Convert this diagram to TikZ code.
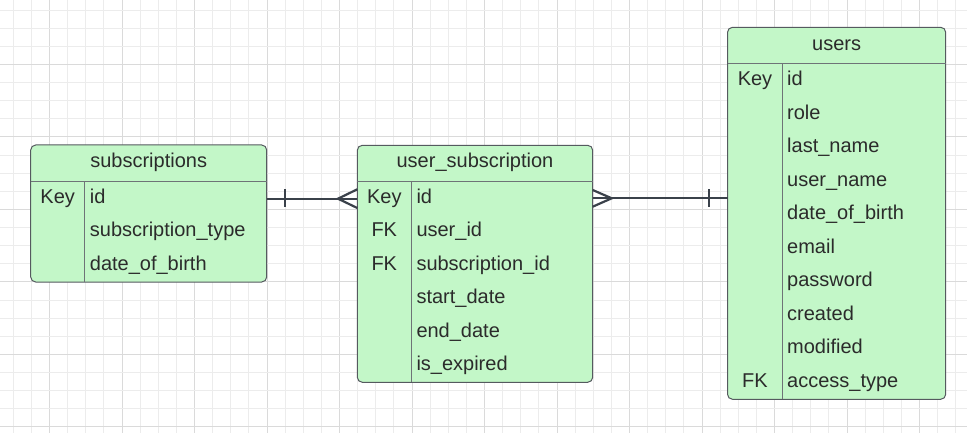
\documentclass[tikz,border=0pt]{standalone}
\usepackage{fontspec}
\setmainfont{Liberation Sans}
\usetikzlibrary{calc}
\definecolor{gridminor}{HTML}{ECECEC}
\definecolor{gridmajor}{HTML}{DADADA}
\definecolor{tblfill}{HTML}{C3F7C8}
\definecolor{tblline}{HTML}{555A5F}
\definecolor{txtcol}{HTML}{2B2B2B}
\definecolor{conncol}{HTML}{3A414A}
\tikzset{
  tbl/.style={draw=tblline, fill=tblfill, line width=1pt, rounded corners=5pt, inner sep=0pt, outer sep=0pt, anchor=north west},
  inner/.style={draw=tblline!85, line width=1pt},
  hdr/.style={anchor=base, text=txtcol, inner sep=0pt, font=\fontsize{20}{24}\selectfont},
  keytxt/.style={anchor=base, text=txtcol, inner sep=0pt, font=\fontsize{20}{24}\selectfont},
  fldtxt/.style={anchor=base west, text=txtcol, inner sep=0pt, font=\fontsize{20}{24}\selectfont},
  conn/.style={draw=conncol, line width=2.2pt},
}
\begin{document}
\begin{tikzpicture}[x=1pt,y=-1pt]
\useasboundingbox (0,0) rectangle (967,433);
\fill[white] (0,0) rectangle (967,433);
% grid
\foreach \i in {0,...,53}{
  \pgfmathsetmacro{\gx}{13.25+18.125*\i}
  \pgfmathtruncatemacro{\m}{mod(\i+2,4)}
  \ifnum\m=0
    \draw[gridmajor, line width=1pt] (\gx,0) -- (\gx,433);
  \else
    \draw[gridminor, line width=1pt] (\gx,0) -- (\gx,433);
  \fi
}
\foreach \j in {0,...,23}{
  \pgfmathsetmacro{\gy}{10.1+18.125*\j}
  \pgfmathtruncatemacro{\m}{mod(\j+1,4)}
  \ifnum\m=0
    \draw[gridmajor, line width=1pt] (0,\gy) -- (967,\gy);
  \else
    \draw[gridminor, line width=1pt] (0,\gy) -- (967,\gy);
  \fi
}
% ---- subscriptions
\node[tbl, minimum width=236pt, minimum height=137pt] (subs) at (30.7,145) {};
\draw[inner] ($(subs.north west)+(0,36.7)$) -- ($(subs.north east)+(0,36.7)$);
\draw[inner] ($(subs.north west)+(54,36.7)$) -- ($(subs.south west)+(54,0)$);
\node[hdr] (subs-h) at ($(subs.north)+(0,22.3)$) {subscriptions};
\node[keytxt] (subs-k1) at ($(subs.north west)+(27,58.3)$) {Key};
\foreach \t [count=\i from 0] in {id,subscription\_type,date\_of\_birth}{
  \node[fldtxt] (subs-f\i) at ($(subs.north west)+(59,58.3+33.5*\i)$) {\t};
}
% ---- user_subscription
\node[tbl, minimum width=235.4pt, minimum height=237pt] (usub) at (357.3,145.3) {};
\draw[inner] ($(usub.north west)+(0,36.4)$) -- ($(usub.north east)+(0,36.4)$);
\draw[inner] ($(usub.north west)+(54,36.4)$) -- ($(usub.south west)+(54,0)$);
\node[hdr] (usub-h) at ($(usub.north)+(0,22)$) {user\_subscription};
\node[keytxt] (usub-k1) at ($(usub.north west)+(27,58)$) {Key};
\node[keytxt] (usub-k2) at ($(usub.north west)+(27,91.5)$) {FK};
\node[keytxt] (usub-k3) at ($(usub.north west)+(27,125)$) {FK};
\foreach \t [count=\i from 0] in {id,user\_id,subscription\_id,start\_date,end\_date,is\_expired}{
  \node[fldtxt] (usub-f\i) at ($(usub.north west)+(59,58+33.5*\i)$) {\t};
}
% ---- users
\node[tbl, minimum width=218.2pt, minimum height=372pt] (users) at (727.5,27.3) {};
\draw[inner] ($(users.north west)+(0,36.7)$) -- ($(users.north east)+(0,36.7)$);
\draw[inner] ($(users.north west)+(54.5,36.7)$) -- ($(users.south west)+(54.5,0)$);
\node[hdr] (users-h) at ($(users.north)+(0,23.4)$) {users};
\node[keytxt] (users-k1) at ($(users.north west)+(27.5,58.4)$) {Key};
\node[keytxt] (users-k2) at ($(users.north west)+(27.5,58.4+301.5)$) {FK};
\foreach \t [count=\i from 0] in {id,role,last\_name,user\_name,date\_of\_birth,email,password,created,modified,access\_type}{
  \node[fldtxt] (users-f\i) at ($(users.north west)+(59.5,58.4+33.5*\i)$) {\t};
}
% ---- connectors
\coordinate (j1) at ($(subs.north east)+(0,53.7)$);
\draw[conn] (j1) -- (usub.west |- j1);
\draw[conn] ($(j1)+(18.3,-9.5)$) -- ($(j1)+(18.3,8.5)$);
\draw[conn] ($(usub.west |- j1)+(0,-9.4)$) -- ($(usub.west |- j1)+(-19.3,0)$) -- ($(usub.west |- j1)+(0,9.3)$);
\coordinate (j2) at ($(usub.north east)+(0,53)$);
\draw[conn] (j2) -- (users.west |- j2);
\draw[conn] ($(j2)+(0,-8.3)$) -- ($(j2)+(19,0)$) -- ($(j2)+(0,8.4)$);
\draw[conn] ($(users.west |- j2)+(-18.5,-9)$) -- ($(users.west |- j2)+(-18.5,9)$);
\end{tikzpicture}
\end{document}
